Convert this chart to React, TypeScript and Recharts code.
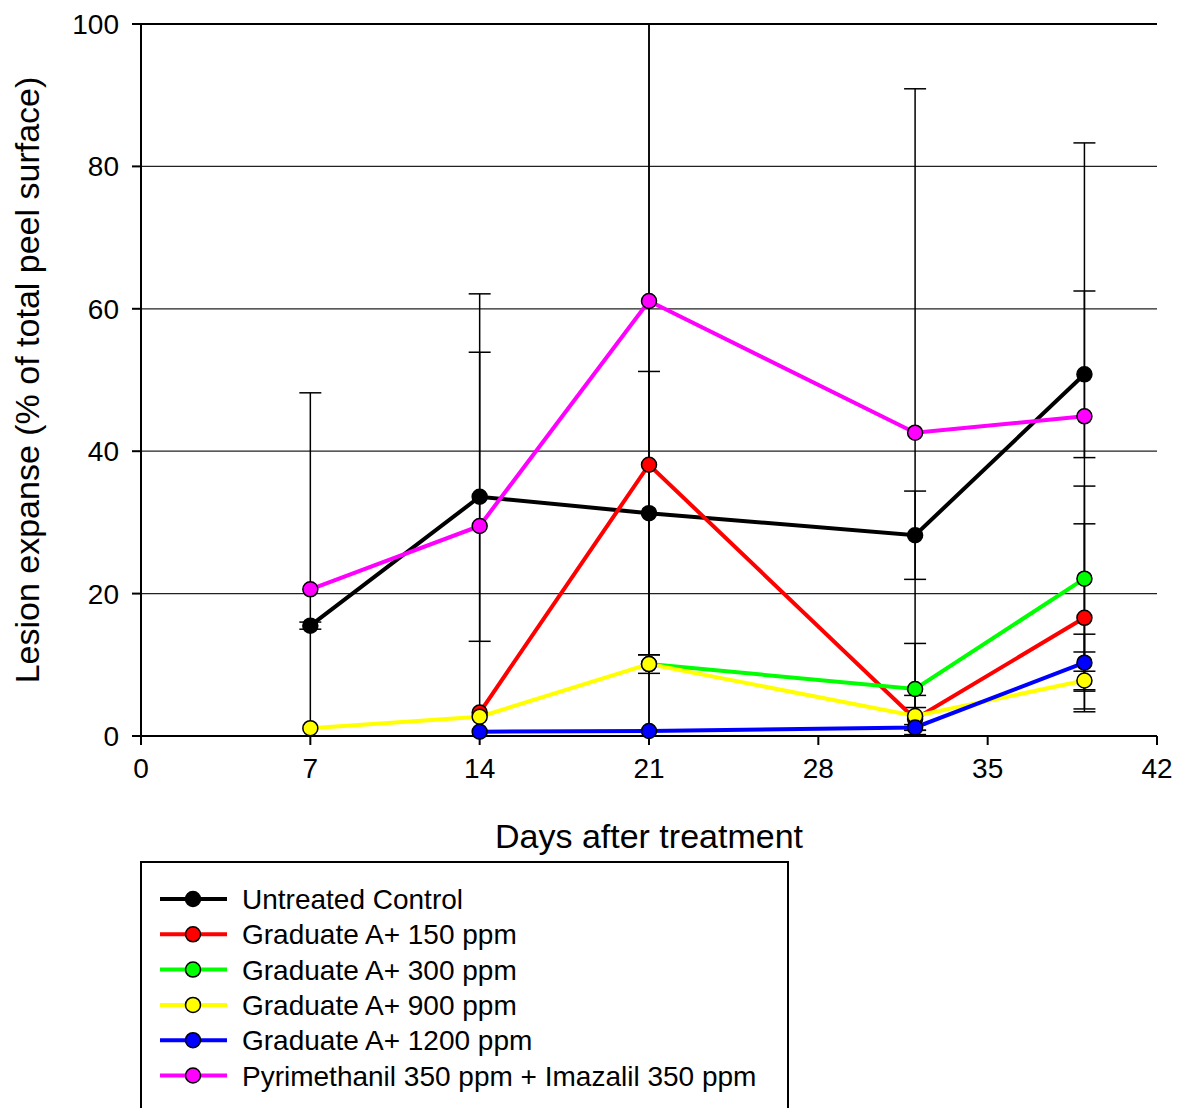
import React from 'react';
import {
  LineChart,
  Line,
  XAxis,
  YAxis,
  CartesianGrid,
  ErrorBar,
  ReferenceLine,
} from 'recharts';

const days = [7, 14, 21, 32, 39];
const xTicks = [0, 7, 14, 21, 28, 35, 42];
const yTicks = [0, 20, 40, 60, 80, 100];

// means (% of peel surface) and their error (+/-) per sampling day
const control = [15.5, 33.6, 31.3, 28.2, 50.8];
const controlErr = [0.5, 20.3, 19.9, 6.2, 11.7];
const ga150 = [null, 3.3, 38.1, 2.4, 16.6];
const ga150Err = [null, 0, 65, 1.6, 13.2];
const ga300 = [null, null, 10.1, 6.6, 22.1];
const ga300Err = [null, null, 0, 6.4, 13.0];
const ga900 = [1.1, 2.7, 10.1, 2.8, 7.8];
const ga900Err = [0, 0, 1.3, 2.9, 4.0];
const ga1200 = [null, 0.6, 0.7, 1.2, 10.3];
const ga1200Err = [null, 0, 0, 0.4, 4.0];
const pyrIma = [20.6, 29.5, 61.1, 42.6, 44.9];
const pyrImaErr = [27.6, 32.6, 70, 48.3, 38.4];

const series = [
  { key: 'control', name: 'Untreated Control', color: '#000000', values: control, err: controlErr },
  { key: 'ga150', name: 'Graduate A+ 150 ppm', color: '#ff0000', values: ga150, err: ga150Err },
  { key: 'ga300', name: 'Graduate A+ 300 ppm', color: '#00ff00', values: ga300, err: ga300Err },
  { key: 'ga900', name: 'Graduate A+ 900 ppm', color: '#ffff00', values: ga900, err: ga900Err },
  { key: 'ga1200', name: 'Graduate A+ 1200 ppm', color: '#0000ff', values: ga1200, err: ga1200Err },
  { key: 'pyrIma', name: 'Pyrimethanil 350 ppm + Imazalil 350 ppm', color: '#ff00ff', values: pyrIma, err: pyrImaErr },
];

// error bars are cut at the axis limits like in the original plot
const clampErr = (v: number | null, e: number | null) => {
  if (v == null || !e) return undefined;
  const lo = Math.max(0, v - e);
  const hi = Math.min(100, v + e);
  return [v - lo, hi - v];
};

const data = days.map((day, i) => {
  const row: Record<string, any> = { day };
  series.forEach((s) => {
    row[s.key] = s.values[i];
    row[`${s.key}Err`] = clampErr(s.values[i], s.err[i]);
  });
  return row;
});

const FONT = '"Liberation Sans", Arial, sans-serif';

function ChartLegend() {
  return (
    <div
      style={{
        position: 'absolute',
        left: 140,
        top: 861,
        width: 649,
        height: 260,
        border: '2px solid #000',
        borderBottom: 'none',
        boxSizing: 'border-box',
        background: '#fff',
      }}
    >
      <svg width={640} height={250} style={{ position: 'absolute', left: 0, top: 0 }}>
        {series.map((s, i) => {
          const cy = 36 + i * 35.3;
          return (
            <g key={s.key}>
              <line x1={18} x2={85} y1={cy} y2={cy} stroke={s.color} strokeWidth={4} />
              <circle cx={51} cy={cy} r={7.5} fill={s.color} stroke="#000" strokeWidth={1.5} />
              <text x={100} y={cy + 10} fontSize={28} fontFamily={FONT} fill="#000">
                {s.name}
              </text>
            </g>
          );
        })}
      </svg>
    </div>
  );
}

export default function App() {
  return (
    <div style={{ position: 'absolute', left: 0, top: 0, width: 1178, height: 1108, background: '#fff', fontFamily: FONT, overflow: 'hidden' }}>
      <LineChart
        width={1178}
        height={1108}
        data={data}
        margin={{ top: 24, right: 21, bottom: 272, left: 0 }}
      >
        <CartesianGrid vertical={false} stroke="#222" strokeWidth={1.2} />
        <XAxis
          dataKey="day"
          type="number"
          domain={[0, 42]}
          ticks={xTicks}
          height={100}
          tickSize={9}
          tickMargin={13}
          stroke="#000"
          strokeWidth={2}
          tick={{ fill: '#000', fontSize: 28, fontFamily: FONT }}
          label={{
            content: (props: any) => {
              const vb = props.viewBox;
              return (
                <text x={vb.x + vb.width / 2} y={848} textAnchor="middle" fontSize={34} fontFamily={FONT} fill="#000">
                  Days after treatment
                </text>
              );
            },
          }}
        />
        <YAxis
          type="number"
          domain={[0, 100]}
          ticks={yTicks}
          width={141}
          tickSize={9}
          tickMargin={13}
          stroke="#000"
          strokeWidth={2}
          tick={{ fill: '#000', fontSize: 28, fontFamily: FONT }}
          label={{
            content: (props: any) => {
              const vb = props.viewBox;
              const cy = vb.y + vb.height / 2;
              return (
                <text x={39} y={cy} transform={`rotate(-90, 39, ${cy})`} textAnchor="middle" fontSize={34} fontFamily={FONT} fill="#000">
                  Lesion expanse (% of total peel surface)
                </text>
              );
            },
          }}
        />
        <ReferenceLine y={100} stroke="#000" strokeWidth={2} />
        {series.map((s) => (
          <Line
            key={s.key}
            dataKey={s.key}
            name={s.name}
            stroke={s.color}
            strokeWidth={4}
            dot={{ r: 7.5, fill: s.color, stroke: '#000', strokeWidth: 1.5 }}
            activeDot={false}
            isAnimationActive={false}
          >
            <ErrorBar dataKey={`${s.key}Err`} width={11} stroke="#000" strokeWidth={1.5} direction="y" />
          </Line>
        ))}
      </LineChart>
      <ChartLegend />
    </div>
  );
}
